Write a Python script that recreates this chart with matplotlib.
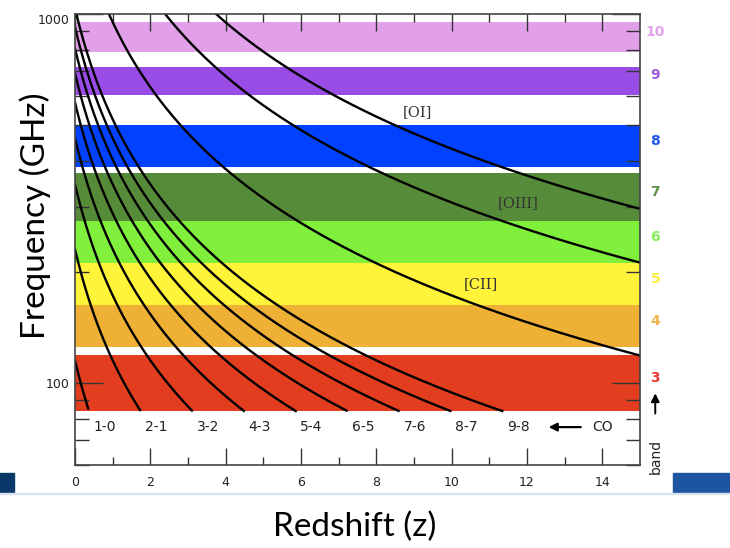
import numpy as np
import matplotlib
matplotlib.use("Agg")
import matplotlib.pyplot as plt
from matplotlib.patches import Rectangle
from matplotlib.transforms import blended_transform_factory

# ALMA receiver bands (GHz)
band_names = ["3", "4", "5", "6", "7", "8", "9", "10"]
band_lo = [84, 125, 163, 211, 275, 385, 602, 787]
band_hi = [119, 163, 211, 275, 370, 500, 720, 950]
band_colors = ["#E33D20", "#EEB035", "#FFF43A", "#80F03C",
               "#568C39", "#0042FF", "#9A4CE6", "#E3A0EA"]
label_colors = ["#EE3A30", "#F0B54A", "#FFEF3A", "#86EE5A",
                "#5E8F4A", "#2255EE", "#A05BE0", "#E3A0EA"]

# rest frequencies (GHz)
co_labels = ["1-0", "2-1", "3-2", "4-3", "5-4", "6-5", "7-6", "8-7", "9-8"]
co_rest = [115.27, 230.54, 345.80, 461.04, 576.27, 691.47, 806.65, 921.80, 1036.91]
fs_labels = ["[CII]", "[OIII]", "[OI]"]
fs_rest = [1900.54, 3393.01, 4744.78]
fs_label_z = [10.78, 11.76, 9.10]
fs_label_f = [186, 308, 542]

z_max = 15.0
f_min = 84.0

W, H = 730, 548
fig = plt.figure(figsize=(W / 100, H / 100), dpi=100)
fig.patch.set_facecolor("white")

# slide footer strip
fig.patches.append(Rectangle((0, 1 - 492 / H), 14 / W, 19 / H,
                             transform=fig.transFigure, color="#0A3868", zorder=0))
fig.patches.append(Rectangle((673 / W, 1 - 492 / H), 1 - 673 / W, 19 / H,
                             transform=fig.transFigure, color="#1D55A2", zorder=0))
fig.patches.append(Rectangle((0, 1 - 494 / H), 1, 1.2 / H,
                             transform=fig.transFigure, color="#D8E1EC", zorder=0))

ax = fig.add_axes([75 / W, 1 - 465 / H, 565 / W, 451 / H])
ax.set_yscale("log")
ax.set_xlim(0, z_max)
ax.set_ylim(60, 1000)

for lo, hi, c in zip(band_lo, band_hi, band_colors):
    ax.axhspan(lo, hi, color=c, lw=0, zorder=1)

z = np.linspace(0, z_max, 600)
for nu in co_rest + fs_rest:
    f = nu / (1 + z)
    keep = f >= f_min
    ax.plot(z[keep], f[keep], color="black", lw=1.7, zorder=3)

# CO transition labels just right of where each curve stops
for nu, lab in zip(co_rest, co_labels):
    z_end = nu / f_min - 1
    ax.text(z_end + 0.42, 76, lab, ha="center", va="center",
            fontsize=10, color="#222222", family="DejaVu Sans", zorder=4)
ax.annotate("", xy=(12.5, 76), xytext=(13.5, 76),
            arrowprops=dict(arrowstyle="-|>", color="black", lw=1.6,
                            mutation_scale=12), zorder=4)
ax.text(14.0, 76, "CO", ha="center", va="center", fontsize=10,
        color="#222222", family="DejaVu Sans", zorder=4)

for lab, zz, ff in zip(fs_labels, fs_label_z, fs_label_f):
    ax.text(zz, ff, lab, ha="center", va="center", fontsize=10.5,
            color="#333333", family="DejaVu Serif", zorder=4)

# band numbers outside the right edge
trans = blended_transform_factory(ax.transAxes, ax.transData)
for name, lo, hi, c in zip(band_names, band_lo, band_hi, label_colors):
    ax.annotate(name, xy=(1.027, np.sqrt(lo * hi)), xycoords=trans,
                xytext=(0, 4), textcoords="offset points",
                ha="center", va="center", fontsize=10, fontweight="bold",
                color=c, annotation_clip=False)
ax.annotate("", xy=(1.027, 0.165), xytext=(1.027, 0.108), xycoords="axes fraction",
            arrowprops=dict(arrowstyle="-|>", color="black", lw=1.4,
                            mutation_scale=12), annotation_clip=False)
ax.text(1.027, 0.018, "band", transform=ax.transAxes, rotation=90,
        ha="center", va="center", fontsize=10, color="#222222")

# axes frame and ticks
for s in ax.spines.values():
    s.set_color("#444444")
    s.set_linewidth(1.2)
    s.set_zorder(5)
ax.set_xticks(np.arange(0, 15, 2))
ax.set_xticks(np.arange(1, 15, 2), minor=True)
ax.set_yticks([100, 1000])
ax.set_yticklabels(["100", "1000"])
ax.tick_params(which="both", direction="in", top=True, right=True,
               color="#333333", width=1.0, labelsize=9, labelcolor="#222222")
ax.tick_params(axis="x", which="major", length=12, pad=8)
ax.tick_params(axis="x", which="minor", length=6)
ax.tick_params(axis="y", which="major", length=20, pad=4)
ax.tick_params(axis="y", which="minor", length=10)
ax.get_yticklabels()[1].set_va("top")

fig.text(35 / W, 1 - 216 / H, "Frequency (GHz)", rotation=90, ha="center",
         va="center", fontsize=24, family="Lato", color="black")
fig.text(355 / W, 1 - 527 / H, "Redshift (z)", ha="center", va="center",
         fontsize=24, family="Lato", color="black")

fig.savefig("out.png", dpi=100)
